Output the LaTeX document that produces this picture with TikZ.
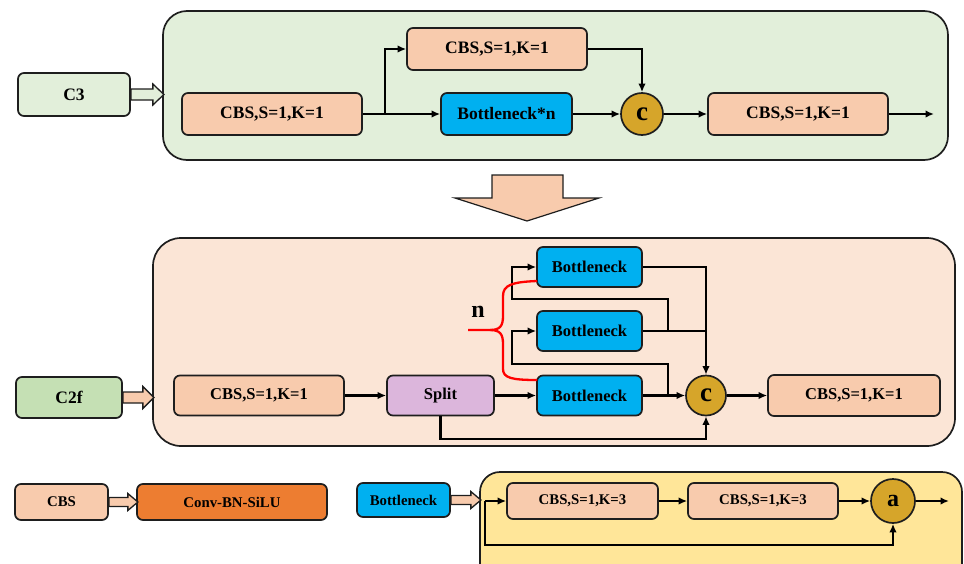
\documentclass[tikz,border=0pt]{standalone}
\usepackage{fontspec}
\setmainfont{Liberation Serif}
\usetikzlibrary{arrows.meta,calc}
\definecolor{pgreen}{HTML}{E2EFDA}
\definecolor{ppeach}{HTML}{FBE5D6}
\definecolor{pyellow}{HTML}{FFE699}
\definecolor{cbsfill}{HTML}{F8CBAD}
\definecolor{bnfill}{HTML}{00B0F0}
\definecolor{splitfill}{HTML}{DCB6DC}
\definecolor{c2ffill}{HTML}{C5E0B4}
\definecolor{convfill}{HTML}{ED7D31}
\definecolor{goldfill}{HTML}{D6A52A}
\definecolor{edge}{HTML}{1E1E1E}
\begin{document}
\begin{tikzpicture}[x=1pt,y=-1pt,
  box/.style={draw=edge, line width=1.7pt, rounded corners=6pt, inner sep=0pt, font=\bfseries},
  cbs/.style={box, fill=cbsfill},
  bn/.style={box, fill=bnfill},
  circ/.style={circle, draw=edge, line width=1.7pt, fill=goldfill, inner sep=0pt, minimum size=#1, font=\bfseries\fontsize{27}{28}\selectfont},
  panel/.style={draw=edge, line width=1.7pt},
  arr/.style={line width=2.4pt, -{Latex[length=8.5pt,width=7.5pt]}},
  ln/.style={line width=2.4pt},
  harrow/.style={draw=edge, line width=1.3pt, line join=miter},
  fA/.style={font=\bfseries\fontsize{17.5}{20}\selectfont},
  fB/.style={font=\bfseries\fontsize{16.5}{19}\selectfont},
  fC/.style={font=\bfseries\fontsize{14.8}{17}\selectfont}
]
\useasboundingbox (0,0) rectangle (964,563);
\clip (0,0) rectangle (964,563);

% ---------------- top (C3) ----------------
\draw[panel, fill=pgreen, rounded corners=24pt] (163,11) rectangle (948,160);
\node[box, fill=pgreen, fA, minimum width=112pt, minimum height=43pt] (c3) at (74,94.5) {C3};
\draw[harrow, fill=pgreen] (c3.east) ++(0,-5.5) -- ++(22,0) -- ++(0,-5) -- ++(11,10.5) -- ++(-11,10.5) -- ++(0,-5) -- ++(-22,0) -- cycle;

\node[cbs, fA, minimum width=180pt, minimum height=42pt] (t1) at (272,114) {CBS,S=1,K=1};
\node[cbs, fA, minimum width=180pt, minimum height=42pt] (t2) at (497,49) {CBS,S=1,K=1};
\node[bn, fA, minimum width=131pt, minimum height=42pt] (tb) at (506.5,114) {Bottleneck*n};
\node[circ=42pt] (tc) at (642,114) {c};
\node[cbs, fA, minimum width=180pt, minimum height=42pt] (t3) at (798,114) {CBS,S=1,K=1};
\coordinate (tout) at (934,114);
\coordinate (tsplit) at (385,114);

\draw[arr] (t1.east) -- (tb.west);
\draw[arr] (tsplit) |- (t2.west);
\draw[arr] (t2.east) -| (tc.north);
\draw[arr] (tb.east) -- (tc.west);
\draw[arr] (tc.east) -- (t3.west);
\draw[arr] (t3.east) -- (tout);

% ---------------- big down arrow ----------------
\draw[draw=edge, line width=1.2pt, fill=cbsfill] (492,175) -- (563,175) -- (563,198) -- (599,198) -- (527,221) -- (455,198) -- (492,198) -- cycle;

% ---------------- middle (C2f) ----------------
\draw[panel, fill=ppeach, rounded corners=28pt] (153,238) rectangle (955,446);
\node[box, fill=c2ffill, fA, minimum width=106pt, minimum height=41pt] (c2f) at (69,397.5) {C2f};
\draw[harrow, fill=cbsfill] (c2f.east) ++(0,-5.5) -- ++(20,0) -- ++(0,-5.5) -- ++(11,11) -- ++(-11,11) -- ++(0,-5.5) -- ++(-20,0) -- cycle;

\node[cbs, fB, minimum width=170pt, minimum height=40pt] (m1) at (259,395.5) {CBS,S=1,K=1};
\node[box, fill=splitfill, fB, minimum width=107pt, minimum height=40pt] (split) at (440.5,395.5) {Split};
\node[bn, fB, minimum width=105pt, minimum height=40pt] (b3) at (589.5,395.5) {Bottleneck};
\node[bn, fB, minimum width=105pt, minimum height=40pt] (b2) at (589.5,331) {Bottleneck};
\node[bn, fB, minimum width=105pt, minimum height=40pt] (b1) at (589.5,267) {Bottleneck};
\node[circ=40pt] (mc) at (706,395.5) {c};
\node[cbs, fB, minimum width=172pt, minimum height=41pt] (m2) at (854,395.5) {CBS,S=1,K=1};

\coordinate (j2) at (668,331);
\coordinate (j3) at (668,395.5);
\coordinate (l1) at (512,299);
\coordinate (l2) at (512,364);

\draw[arr] (m1.east) -- (split.west);
\draw[arr] (split.east) -- (b3.west);
\draw[arr] (b3.east) -- (mc.west);
\draw[arr] (mc.east) -- (m2.west);
\draw[arr] (b1.east) -| (mc.north);
\draw[ln] (b2.east) -- (b2.east -| mc.north);
\draw[arr] (j2) |- (l1) |- (b1.west);
\draw[arr] (j3) |- (l2) |- (b2.west);
\draw[arr] (split.south) -- (split.south |- 0,439) -| (mc.south);

% red brace
\coordinate (btip) at (468,330);
\draw[red, line width=2.3pt, line join=round] (btip) -- (490,330)
  .. controls (500,330) and (503,326) .. (503,316) -- (503,296)
  .. controls (503,285) and (512,282) .. (537,281);
\draw[red, line width=2.3pt, line join=round] (490,330)
  .. controls (500,330) and (503,334) .. (503,344) -- (503,369)
  .. controls (503,378) and (512,380) .. (537,380);
\node[font=\bfseries\fontsize{24}{26}\selectfont] (nlab) at (478,312) {n};

% ---------------- bottom legends ----------------
\node[cbs, fC, minimum width=93pt, minimum height=36pt] (cbs) at (61.5,502) {CBS};
\node[box, fill=convfill, fC, minimum width=190pt, minimum height=36pt] (conv) at (232,502) {Conv-BN-SiLU};
\draw[harrow, fill=cbsfill] (cbs.east) ++(0,-4.5) -- ++(19,0) -- ++(0,-4) -- ++(10,8.5) -- ++(-10,8.5) -- ++(0,-4) -- ++(-19,0) -- cycle;

\node[bn, fC, minimum width=93pt, minimum height=34pt] (bnl) at (403.5,500) {Bottleneck};
\draw[panel, fill=pyellow, rounded corners=20pt] (480,472) rectangle (962,600);
\draw[harrow, fill=cbsfill] (bnl.east) ++(0,-4.5) -- ++(20,0) -- ++(0,-4) -- ++(10,8.5) -- ++(-10,8.5) -- ++(0,-4) -- ++(-20,0) -- cycle;

\node[cbs, fC, minimum width=151pt, minimum height=36pt] (k1) at (582.5,501) {CBS,S=1,K=3};
\node[cbs, fC, minimum width=150pt, minimum height=36pt] (k2) at (763,501) {CBS,S=1,K=3};
\node[circ=44pt, font=\bfseries\fontsize{24}{26}\selectfont] (ac) at (893,501) {a};
\coordinate (bin) at (485,501);
\coordinate (bout) at (949,501);

\draw[arr] (bin) -- (k1.west);
\draw[arr] (k1.east) -- (k2.west);
\draw[arr] (k2.east) -- (ac.west);
\draw[arr] (ac.east) -- (bout);
\draw[arr] (bin) -- (bin |- 0,545) -| (ac.south);
\end{tikzpicture}
\end{document}
